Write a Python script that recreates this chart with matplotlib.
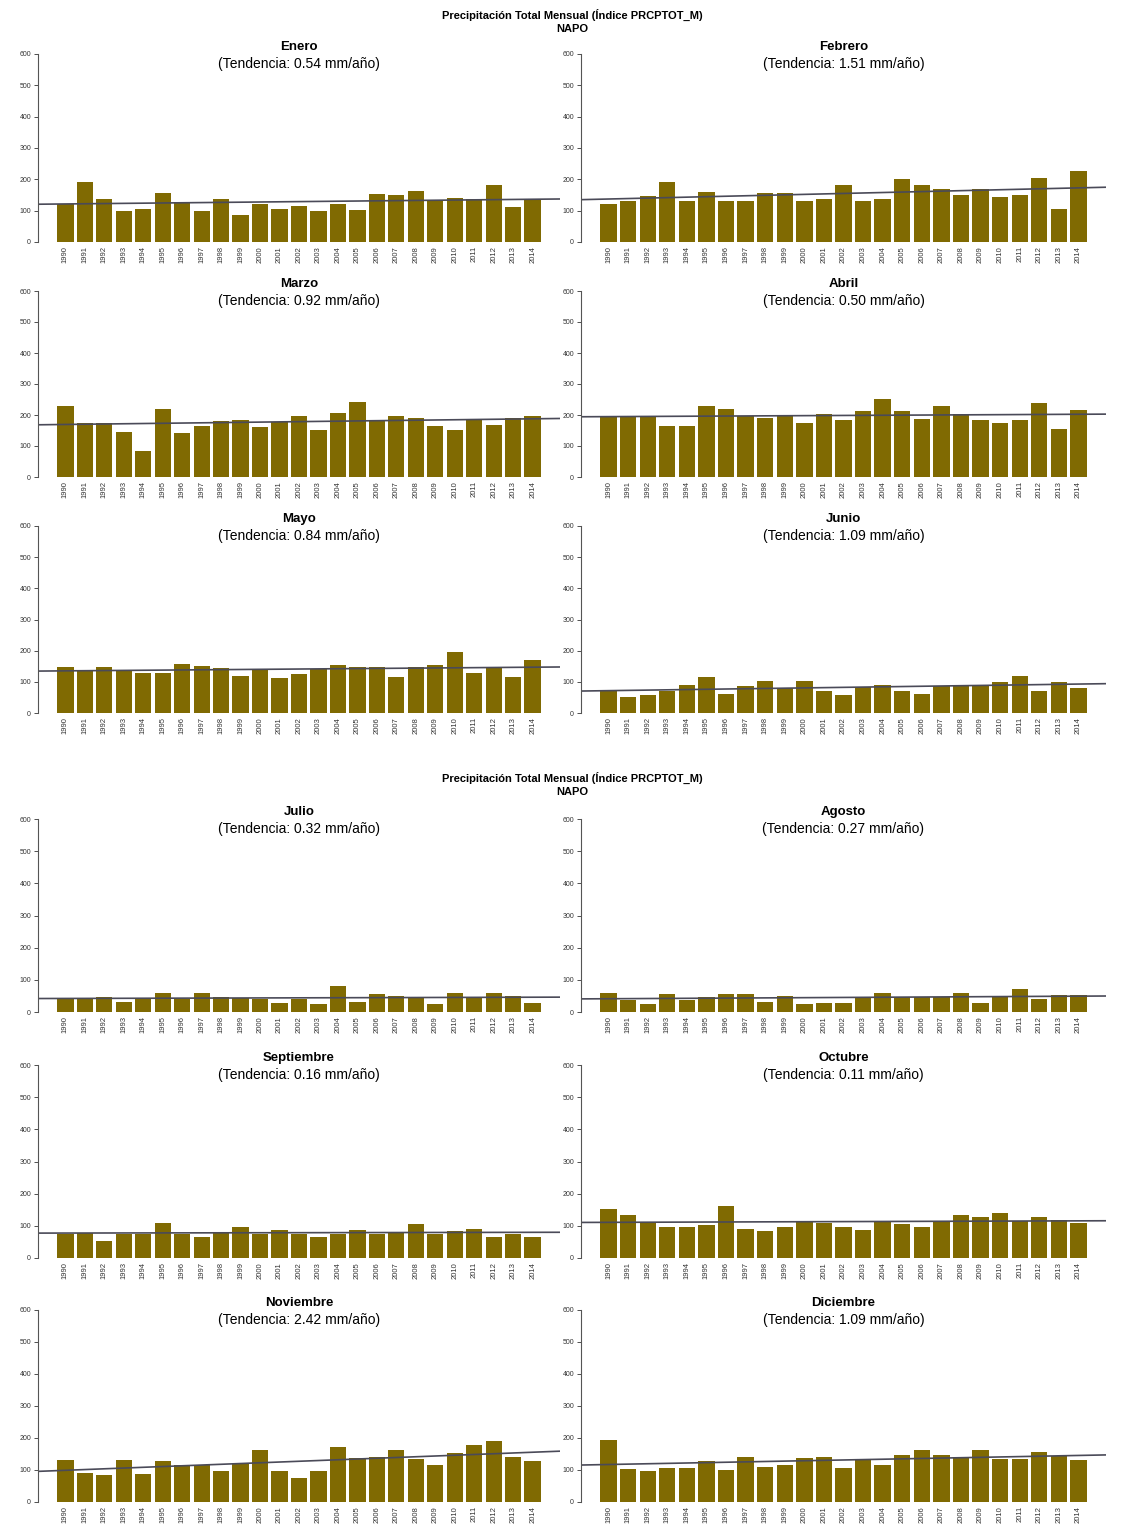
import numpy as np
import matplotlib
matplotlib.use("Agg")
import matplotlib.pyplot as plt

plt.rcParams['font.family'] = ['Liberation Sans', 'DejaVu Sans']

# datos (mm)
years = [str(y) for y in range(1990, 2015)]

meses = ["Enero", "Febrero", "Marzo", "Abril", "Mayo", "Junio",
         "Julio", "Agosto", "Septiembre", "Octubre", "Noviembre", "Diciembre"]
tendencias = ["0.54", "1.51", "0.92", "0.50", "0.84", "1.09",
              "0.32", "0.27", "0.16", "0.11", "2.42", "1.09"]

enero = [120, 191, 136, 99, 106, 156, 128, 98, 136, 85, 122, 106, 115,
         98, 120, 101, 154, 151, 162, 130, 140, 138, 183, 112, 136]
febrero = [122, 130, 147, 191, 130, 160, 130, 130, 157, 157, 130, 138, 181,
           130, 138, 202, 183, 168, 151, 168, 144, 151, 204, 106, 226]
marzo = [230, 174, 174, 145, 83, 219, 142, 166, 180, 185, 161, 176, 196,
         153, 206, 241, 185, 198, 190, 166, 153, 188, 167, 191, 196]
abril = [196, 196, 196, 166, 166, 230, 219, 196, 190, 196, 174, 204, 185,
         212, 252, 212, 187, 230, 204, 185, 174, 183, 239, 155, 217]
mayo = [147, 135, 147, 136, 128, 128, 156, 151, 144, 120, 138, 112, 124,
        140, 153, 147, 147, 117, 147, 154, 197, 128, 144, 117, 170]
junio = [69, 50, 58, 69, 90, 114, 61, 88, 103, 80, 103, 71, 58,
         82, 90, 71, 61, 88, 90, 90, 101, 120, 69, 101, 80]
julio = [39, 39, 47, 31, 39, 59, 39, 59, 47, 45, 39, 28, 39,
         26, 80, 31, 55, 49, 42, 26, 59, 47, 59, 49, 28]
agosto = [59, 36, 24, 57, 36, 47, 57, 57, 31, 49, 26, 28, 28,
          47, 59, 47, 47, 47, 59, 28, 49, 70, 39, 52, 52]
septiembre = [76, 78, 53, 76, 76, 109, 74, 66, 81, 95, 76, 86, 74,
              66, 76, 86, 76, 81, 107, 74, 84, 91, 66, 76, 64]
octubre = [151, 133, 109, 95, 95, 102, 161, 89, 84, 97, 116, 109, 97,
           86, 116, 107, 97, 116, 133, 126, 141, 116, 126, 118, 109]
noviembre = [130, 92, 83, 130, 89, 127, 115, 117, 96, 120, 161, 96, 75,
             96, 172, 138, 141, 161, 135, 117, 154, 179, 190, 141, 127]
diciembre = [193, 104, 96, 106, 106, 127, 99, 141, 109, 115, 138, 141, 106,
             130, 117, 146, 161, 148, 141, 161, 135, 133, 156, 144, 130]

datos = [enero, febrero, marzo, abril, mayo, junio,
         julio, agosto, septiembre, octubre, noviembre, diciembre]

W, H = 1145, 1535
fig = plt.figure(figsize=(W / 100, H / 100), dpi=100)

# posiciones en pixeles (nivel 0 / nivel 600) de cada fila
filas = [(242, 54), (477, 291), (713, 526),
         (1012, 819), (1258, 1065), (1502, 1310)]
columnas = [(38, 560), (581, 1106)]

color_barra = '#806a02'
x = 0.7 + 1.2 * np.arange(len(years))

for k, (mes, vals) in enumerate(zip(meses, datos)):
    fila, col = divmod(k, 2)
    y0, y6 = filas[fila]
    x0, x1 = columnas[col]
    ax = fig.add_axes([x0 / W, 1 - y0 / H, (x1 - x0) / W, (y0 - y6) / H])
    ax.bar(x, vals, width=1.0, color=color_barra, edgecolor='none')
    ax.set_xlim(-0.99, 31.19)
    ax.set_ylim(0, 600)

    # linea de tendencia
    coef = np.polyfit(np.arange(len(vals)), vals, 1)
    xs = np.array([-0.99, 31.19])
    ax.plot(xs, coef[1] + coef[0] * (xs - 0.7) / 1.2, color='#4a4a58', lw=1.2)

    for s in ['top', 'right', 'bottom']:
        ax.spines[s].set_visible(False)
    ax.spines['left'].set_color('#555555')
    ax.spines['left'].set_linewidth(0.8)
    ax.set_yticks(range(0, 601, 100))
    ax.tick_params(axis='y', labelsize=5, length=3, width=0.6,
                   colors='#333333', pad=2)
    ax.set_xticks(x)
    ax.set_xticklabels(years, rotation=90, fontsize=5.5, color='#333333')
    ax.tick_params(axis='x', length=0, pad=3)

    ax.text(0.5, 1.037, mes, transform=ax.transAxes, ha='center',
            va='center', fontsize=9.5, fontweight='bold', clip_on=False)
    ax.text(0.5, 0.947, "(Tendencia: %s mm/año)" % tendencias[k],
            transform=ax.transAxes, ha='center', va='center', fontsize=10)

# titulos de cada pagina
for ty in [15, 778]:
    fig.text(0.5, 1 - ty / H, "Precipitación Total Mensual (Índice PRCPTOT_M)",
             ha='center', va='center', fontsize=8, fontweight='bold')
    fig.text(0.5, 1 - (ty + 14) / H, "NAPO", ha='center', va='center',
             fontsize=8, fontweight='bold')

fig.savefig("out.png", dpi=100)
